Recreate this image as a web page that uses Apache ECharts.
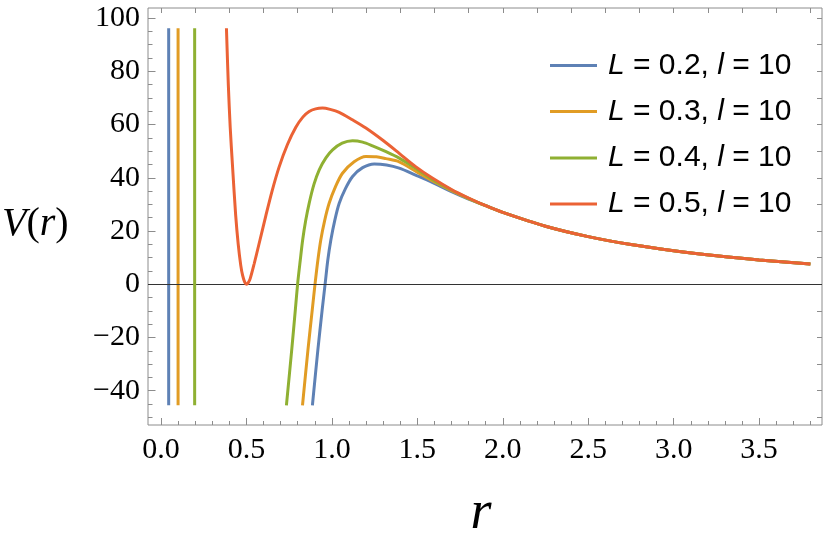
<!DOCTYPE html>
<html>
<head>
<meta charset="utf-8">
<title>V(r)</title>
<script src="https://cdn.jsdelivr.net/npm/echarts@6/dist/echarts.min.js"></script>
<style>
html, body { margin: 0; padding: 0; background: #fff; }
#main { width: 830px; height: 542px; }
</style>
</head>
<body>
<div id="main"></div>
<script>
// 图例名 & 颜色
var names = ['L = 0.2, l = 10', 'L = 0.3, l = 10', 'L = 0.4, l = 10', 'L = 0.5, l = 10'];
var colors = ['#5e81b5', '#e19c24', '#8fb032', '#eb6235'];

// 小r处竖直段 (上截断 -> 下截断)
var wallR = [0.045, 0.10, 0.197];
var clipTop = 96.2;
var clipBottom = -45.5;

// 各曲线主分支
var blueR = [0.886, 0.918, 0.943, 0.961, 0.976, 0.994, 1.017, 1.043, 1.08, 1.121, 1.18, 1.248, 1.32, 1.394, 1.49, 1.59, 1.7, 1.8];
var blueV = [-45.5, -24.7, -9.7, 0.4, 9, 16.6, 24, 30.4, 36, 40.5, 43.8, 45.2, 44.8, 43.6, 41.0, 38.2, 34.8, 32.0];

var orangeR = [0.828, 0.860, 0.885, 0.902, 0.918, 0.935, 0.958, 0.984, 1.02, 1.062, 1.13, 1.199, 1.26, 1.316, 1.394, 1.49, 1.59, 1.7, 1.8];
var orangeV = [-45.5, -24.7, -9.7, 0.4, 9, 16.6, 24, 30.4, 36.5, 41.7, 46, 48.0, 47.9, 47.2, 46.0, 42.5, 38.8, 35.2, 32.2];

var greenR = [0.734, 0.765, 0.786, 0.80, 0.815, 0.829, 0.847, 0.867, 0.895, 0.926, 0.965, 1.004, 1.06, 1.121, 1.18, 1.238, 1.31, 1.394, 1.49, 1.59, 1.7, 1.8];
var greenV = [-45.5, -24.7, -9.7, 0.4, 9, 16.6, 24, 30.4, 37.5, 43.0, 47.5, 50.5, 53, 53.9, 53.4, 52.0, 50.0, 47.4, 43.6, 39.3, 35.4, 32.3];

var redR = [0.383, 0.394, 0.405, 0.418, 0.437, 0.452, 0.467, 0.478, 0.49, 0.5, 0.51, 0.522, 0.545, 0.575, 0.613, 0.65, 0.691, 0.74, 0.789, 0.83, 0.867, 0.905, 0.945, 0.99, 1.043, 1.12, 1.199, 1.3, 1.394, 1.49, 1.59, 1.7, 1.8];
var redV = [96.2, 75, 59, 45, 26, 15, 7, 3.2, 0.8, 0, 0.5, 2.1, 7.6, 15.5, 25.6, 35, 44, 52.5, 59, 62.8, 64.9, 65.9, 66.2, 65.7, 64.6, 61.8, 58.7, 54, 49.2, 44.2, 39.8, 35.6, 32.4];

// 大r处四条曲线重合
var tailR = [1.9, 2.0, 2.25, 2.5, 2.75, 3.0, 3.25, 3.5, 3.8];
var tailV = [29.5, 27.0, 21.8, 17.9, 14.9, 12.6, 10.7, 9.1, 7.6];

// 刻度
var xMin = -0.076, xMax = 3.868;
var yMin = -52.9, yMax = 103.8;
var xMajor = [0, 0.5, 1, 1.5, 2, 2.5, 3, 3.5];
var xMinor = [0.1, 0.2, 0.3, 0.4, 0.6, 0.7, 0.8, 0.9, 1.1, 1.2, 1.3, 1.4, 1.6, 1.7, 1.8, 1.9, 2.1, 2.2, 2.3, 2.4, 2.6, 2.7, 2.8, 2.9, 3.1, 3.2, 3.3, 3.4, 3.6, 3.7, 3.8];
var xTop = [0, 0.2, 0.4, 0.6, 0.8, 1, 1.2, 1.4, 1.6, 1.8, 2, 2.2, 2.4, 2.6, 2.8, 3, 3.2, 3.4, 3.6, 3.8];
var yMajor = [-40, -20, 0, 20, 40, 60, 80, 100];
var yMinor = [-50, -45, -35, -30, -25, -15, -10, -5, 5, 10, 15, 25, 30, 35, 45, 50, 55, 65, 70, 75, 85, 90, 95];
var yRight = [-50, -40, -30, -20, -10, 0, 10, 20, 30, 40, 50, 60, 70, 80, 90, 100];

var legendRowY = [65.5, 111.5, 158, 204];

var frameColor = '#8c8c8c';

function zip(rs, vs){
    var res = [];
    for(var i = 0; i < rs.length; i++){
        res.push([rs[i], vs[i]]);
    }
    return res;
}

function tickAxis(pos, min, max, values, len, labels){
    var ax = {
        type: 'value', position: pos, min: min, max: max,
        axisLine: {show: false, onZero: false},
        splitLine: {show: false},
        axisTick: {show: true, inside: true, length: len, customValues: values, lineStyle: {color: frameColor, width: 1}},
        axisLabel: {show: false}
    };
    if(labels){
        ax.axisLabel = labels;
    }
    return ax;
}

var branchR = [blueR, orangeR, greenR, redR];
var branchV = [blueV, orangeV, greenV, redV];

var series = [];
for(var i = 0; i < names.length; i++){
    var line = {
        name: names[i], type: 'line', showSymbol: false, symbol: 'none', smooth: 0.3,
        lineStyle: {color: colors[i], width: 3}, itemStyle: {color: colors[i]},
        data: zip(branchR[i], branchV[i]).concat(zip(tailR, tailV)),
        z: 3 + i
    };
    if(i < wallR.length){
        series.push({
            name: names[i], type: 'line', showSymbol: false, symbol: 'none',
            lineStyle: {color: colors[i], width: 3}, itemStyle: {color: colors[i]},
            data: [[wallR[i], clipTop], [wallR[i], clipBottom]],
            z: 3 + i
        });
    }
    series.push(line);
}
// y=0 轴线
series[0].markLine = {
    silent: true, symbol: ['none', 'none'], label: {show: false},
    lineStyle: {color: '#333', width: 1, type: 'solid'},
    data: [{yAxis: 0}]
};

var legends = [];
for(var k = 0; k < names.length; k++){
    legends.push({
        data: [names[k]], left: 550, top: legendRowY[k] - 15, padding: 0,
        icon: 'rect', itemWidth: 47, itemHeight: 3, selectedMode: false,
        formatter: function(n){ return n.replace(/^L/, '{i|L}').replace(', l', ', {i|l}'); },
        textStyle: {
            fontFamily: 'Liberation Sans', fontSize: 30, color: '#000', lineHeight: 30, padding: [0, 0, 0, 6],
            rich: {i: {fontFamily: 'Liberation Sans', fontSize: 30, fontStyle: 'italic', color: '#000', lineHeight: 30}}
        }
    });
}

var tickFont = {fontFamily: 'Liberation Serif', fontSize: 30, color: '#000'};

var option = {
    animation: false,
    backgroundColor: '#fff',
    grid: {left: 148, right: 8, top: 8, bottom: 117, show: true, borderColor: frameColor, borderWidth: 1, backgroundColor: 'transparent'},
    legend: legends,
    xAxis: [
        tickAxis('bottom', xMin, xMax, xMajor, 7, {
            show: true, customValues: xMajor, margin: 10,
            fontFamily: tickFont.fontFamily, fontSize: tickFont.fontSize, color: tickFont.color,
            formatter: function(v){ return v.toFixed(1); }
        }),
        tickAxis('bottom', xMin, xMax, xMinor, 4),
        tickAxis('top', xMin, xMax, xTop, 5)
    ],
    yAxis: [
        tickAxis('left', yMin, yMax, yMajor, 7.5, {
            show: true, customValues: yMajor, margin: 8,
            fontFamily: tickFont.fontFamily, fontSize: tickFont.fontSize, color: tickFont.color,
            formatter: function(v){ return v < 0 ? '\u2212' + (-v) : '' + v; }
        }),
        tickAxis('left', yMin, yMax, yMinor, 4.5),
        tickAxis('right', yMin, yMax, yRight, 5)
    ],
    graphic: [
        {type: 'text', x: 2, y: 224, silent: true, style: {
            text: '{i|V}({i|r})', verticalAlign: 'middle', fill: '#000',
            fontFamily: 'Liberation Serif', fontSize: 40,
            rich: {i: {fontFamily: 'Liberation Serif', fontSize: 40, fontStyle: 'italic', fill: '#000'}}
        }},
        {type: 'text', x: 481, y: 514, silent: true, style: {
            text: 'r', align: 'center', verticalAlign: 'middle', fill: '#000',
            fontFamily: 'Liberation Serif', fontSize: 54, fontStyle: 'italic'
        }}
    ],
    series: series
};

function toolSetChart(id, opt){
    var myChart = echarts.init(document.getElementById(id));
    myChart.clear();
    myChart.setOption(opt);
}
toolSetChart('main', option);
</script>
</body>
</html>
